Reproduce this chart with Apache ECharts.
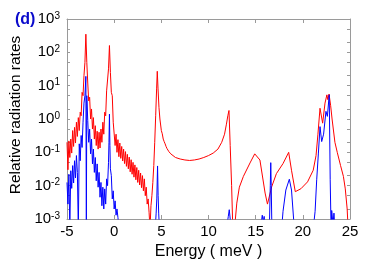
<!DOCTYPE html>
<html>
<head>
<meta charset="utf-8">
<script src="https://cdn.jsdelivr.net/npm/echarts@6/dist/echarts.min.js"></script>
<style>
html,body{margin:0;padding:0;background:#fff;}
#c{width:374px;height:262px;}
</style>
</head>
<body>
<div id="c"></div>
<script>
// ---- data ----
const xTicks = [-5, 0, 5, 10, 15, 20, 25];
const yTickExps = [-3, -2, -1, 0, 1, 2, 3];

const redE = [
 -5.0,-4.9,-4.8,-4.7,-4.6,-4.5,-4.4,-4.3,-4.2,-4.1,
 -4.0,-3.9,-3.8,-3.7,-3.6,-3.5,-3.4,-3.3,-3.2,-3.1,
 -3.0,-2.9,-2.8,-2.7,-2.6,-2.5,-2.4,-2.3,-2.2,-2.1,
 -2.0,-1.9,-1.8,-1.7,-1.6,-1.5,-1.4,-1.3,-1.2,-1.1,
 -1.0,-0.9,-0.8,-0.7,-0.6,-0.5,-0.4,-0.3,-0.2,-0.1,
 0.0,0.1,0.2,0.3,0.4,0.5,0.6,0.7,0.8,0.9,
 1.0,1.1,1.2,1.3,1.4,1.5,1.6,1.7,1.8,1.9,
 2.0,2.1,2.2,2.3,2.4,2.5,2.6,2.7,2.8,2.9,
 3.0,3.1,3.2,3.3,3.4,3.5,3.6,3.7,3.8,3.9,
 4.0,4.1,4.2,4.3,4.4,4.5,4.57,4.65,4.75,4.85,
 5.0,5.1,5.2,5.3,5.4,5.5,5.6,5.7,5.8,5.9,
 6.0,6.2,6.5,7.0,7.5,8.0,8.5,9.0,9.5,10.0,
 10.5,11.0,11.4,11.7,11.9,12.05,12.17,12.3,12.45,12.6,
 12.85,13.0,13.27,13.7,14.4,14.9,15.45,16.0,16.25,16.7,
 17.2,17.9,18.5,18.8,19.2,19.8,20.5,21.1,21.4,21.6,
 21.82,22.1,22.35,22.55,22.65,22.78,22.95,23.1,23.4,23.65,
 24.0,24.3,24.5,24.7,24.8
];
const redV = [
 0.2,0.03,0.22,0.07,0.25,0.095,0.45,0.15,0.56,0.19,
 0.8,0.3,1.1,0.45,1.6,1.25,6.3,5,20,50,
 350,50,12,3.5,4.5,1.0,2.0,0.5,1.1,0.25,
 0.63,0.16,0.43,0.125,0.4,0.135,0.5,0.2,0.8,0.35,
 1.6,1.25,7,8,32,160,25,6.3,5,0.8,
 0.7,0.16,0.35,0.1,0.24,0.074,0.19,0.066,0.15,0.055,
 0.125,0.046,0.105,0.038,0.087,0.032,0.072,0.026,0.06,0.022,
 0.05,0.018,0.042,0.015,0.035,0.0125,0.029,0.0105,0.024,0.0087,
 0.02,0.007,0.016,0.005,0.009,0.0028,0.004,0.0016,0.0005,0.0025,
 0.005,0.0125,0.04,0.2,1.25,8,27,8,2.2,1.0,
 0.45,0.36,0.25,0.21,0.18,0.15,0.13,0.115,0.105,0.094,
 0.09,0.08,0.07,0.063,0.059,0.057,0.059,0.063,0.07,0.08,
 0.095,0.125,0.2,0.35,0.7,1.25,1.8,0.16,0.01,0.0003,
 0.001,0.003,0.009,0.019,0.048,0.09,0.059,0.006,0.0028,0.0093,
 0.023,0.046,0.1,0.029,0.0066,0.0081,0.013,0.029,0.08,0.35,
 2.1,0.75,3.0,5.3,3.8,5.6,2.5,1.0,0.2,0.1,
 0.04,0.019,0.008,0.002,0.0005
];

const blueE = [
 -5.0,-4.9,-4.8,-4.7,-4.6,-4.5,-4.4,-4.3,-4.2,-4.1,
 -4.0,-3.9,-3.8,-3.7,-3.6,-3.5,-3.4,-3.3,-3.2,-3.1,
 -3.0,-2.95,-2.9,-2.8,-2.7,-2.6,-2.5,-2.4,-2.3,-2.2,
 -2.1,-2.0,-1.9,-1.8,-1.7,-1.6,-1.5,-1.4,-1.3,-1.2,
 -1.1,-1.0,-0.9,-0.8,-0.7,-0.6,-0.55,-0.5,-0.45,-0.4,
 -0.3,-0.2,-0.1,0.0,0.1,0.2,0.3,0.4,0.5,0.6,
 4.35,4.45,4.52,4.6,4.66,4.72,4.8,
 11.9,12.1,12.2,12.3,12.4,
 15.5,15.7,15.8,15.9,16.0,
 16.45,16.55,16.6,16.65,16.72,
 17.75,17.9,18.2,18.57,18.8,19.1,
 21.1,21.3,21.47,21.65,21.82,22.0,22.2,22.45,22.6,22.8,
 22.9,23.0,23.06,23.2,23.3,23.4
];
const blueV = [
 0.0125,0.0028,0.022,0.0005,0.028,0.0083,0.04,0.012,0.056,0.017,
 0.08,0.025,0.0005,0.18,0.056,0.32,0.14,0.8,3,5,
 19,0.0005,5,0.9,0.2,0.5,0.09,0.25,0.045,0.125,
 0.025,0.07,0.014,0.045,0.009,0.025,0.0045,0.0125,0.0025,0.009,
 0.002,0.008,0.0028,0.016,0.01,0.05,0.2,1.4,0.16,0.032,
 0.02,0.004,0.007,0.002,0.0035,0.0013,0.002,0.0011,0.0006,0.0004,
 0.0005,0.0015,0.004,0.039,0.005,0.0015,0.0005,
 0.0005,0.0012,0.0019,0.001,0.0005,
 0.0005,0.0013,0.0008,0.0012,0.0005,
 0.0005,0.01,0.049,0.01,0.0005,
 0.0005,0.0017,0.0074,0.0156,0.0074,0.0005,
 0.0005,0.0017,0.015,0.095,0.59,0.21,0.35,1.7,1.2,5.3,
 0.015,0.0004,0.0018,0.0007,0.0015,0.0005
];

// ---- chart ----
const tickMarks = [0.001,0.002,0.005,0.01,0.02,0.05,0.1,0.2,0.5,1,2,5,10,20,50,100,200,500,1000];
const axisGray = '#9a9a9a';
const FONT = '"Liberation Sans", Arial, Helvetica, sans-serif';

function zip(a, b) { return a.map((v, i) => [v, b[i]]); }

const chart = echarts.init(document.getElementById('c'), null, {renderer: 'canvas'});
chart.setOption({
  animation: false,
  backgroundColor: '#fff',
  title: {
    text: '(d)', left: 10, top: 7,
    textStyle: {fontFamily: FONT, fontSize: 16, fontWeight: 'bold', color: '#0a0acc'}
  },
  grid: {left: 67, right: 24, top: 19, bottom: 43, outerBoundsMode: 'none'},
  xAxis: [{
    type: 'value', min: xTicks[0], max: xTicks[xTicks.length - 1], interval: 5,
    position: 'bottom',
    name: 'Energy ( meV )', nameLocation: 'middle', nameGap: 22,
    nameTextStyle: {fontFamily: FONT, fontSize: 16, color: '#000'},
    axisLine: {show: true, onZero: false, lineStyle: {color: axisGray, width: 1}},
    axisTick: {show: true, inside: true, length: 4, lineStyle: {color: axisGray}},
    axisLabel: {fontFamily: FONT, fontSize: 15, color: '#000', margin: 5},
    splitLine: {show: false}
  }, {
    type: 'value', min: xTicks[0], max: xTicks[xTicks.length - 1], interval: 5,
    position: 'top',
    axisLine: {show: true, onZero: false, lineStyle: {color: axisGray, width: 1}},
    axisTick: {show: true, inside: true, length: 4, lineStyle: {color: axisGray}},
    axisLabel: {show: false},
    splitLine: {show: false}
  }],
  yAxis: [{
    type: 'log', logBase: 10, min: 0.001, max: 1000,
    position: 'left',
    name: 'Relative radiation rates', nameLocation: 'middle', nameGap: 32,
    nameTextStyle: {fontFamily: FONT, fontSize: 15.5, color: '#000', padding: [0, 0, 0, 8]},
    axisLine: {show: true, onZero: false, lineStyle: {color: axisGray, width: 1}},
    axisTick: {show: true, inside: true, length: 3, lineStyle: {color: axisGray}, customValues: tickMarks},
    axisLabel: {
      margin: 7,
      customValues: yTickExps.map(e => Math.pow(10, e)),
      formatter: function (v) {
        const e = Math.round(Math.log10(v));
        return '{b|10}{s|' + e + '}';
      },
      rich: {
        b: {fontFamily: FONT, fontSize: 15, color: '#000', lineHeight: 16},
        s: {fontFamily: FONT, fontSize: 10, color: '#000', lineHeight: 8, verticalAlign: 'top'}
      }
    },
    splitLine: {show: false}
  }, {
    type: 'log', logBase: 10, min: 0.001, max: 1000,
    position: 'right',
    axisLine: {show: true, onZero: false, lineStyle: {color: axisGray, width: 1}},
    axisTick: {show: true, inside: true, length: 3, lineStyle: {color: axisGray}, customValues: tickMarks},
    axisLabel: {show: false},
    splitLine: {show: false}
  }],
  series: [{
    type: 'line', name: 'red', xAxisIndex: 0, yAxisIndex: 0,
    data: zip(redE, redV), showSymbol: false, symbol: 'none', smooth: false,
    lineStyle: {color: '#ff0000', width: 1}, clip: true
  }, {
    type: 'line', name: 'blue', xAxisIndex: 0, yAxisIndex: 0,
    data: zip(blueE, blueV), showSymbol: false, symbol: 'none', smooth: false,
    lineStyle: {color: '#0000ff', width: 1}, clip: true
  }]
});
</script>
</body>
</html>
